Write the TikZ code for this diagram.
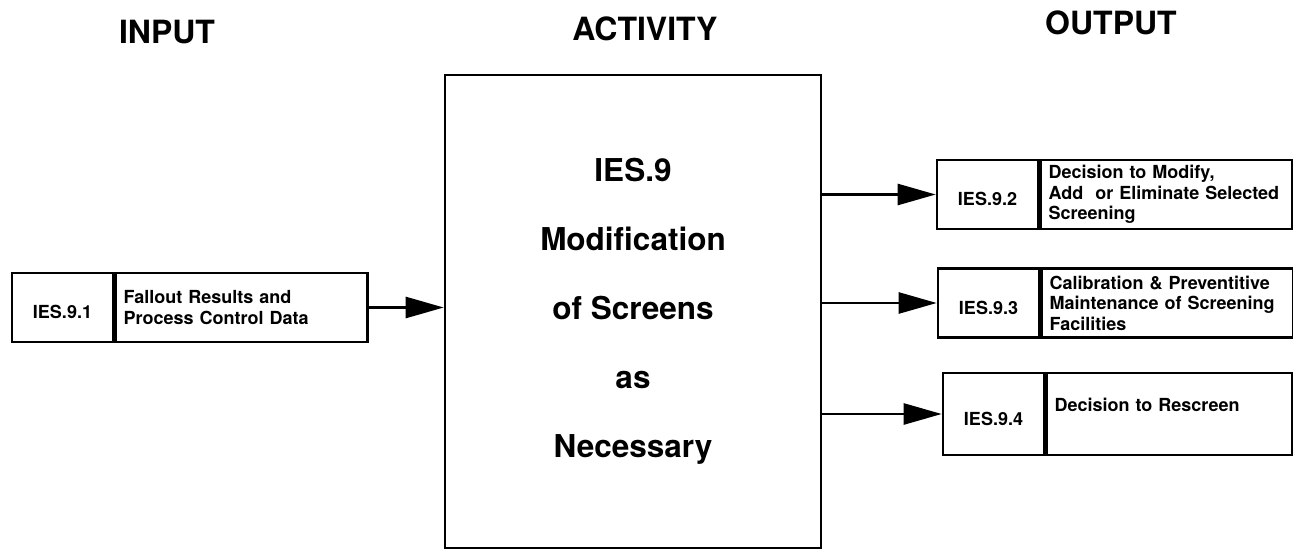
\documentclass[tikz,border=0pt]{standalone}
\usepackage{fontspec}
\setmainfont{TeX Gyre Heros}
\usetikzlibrary{arrows.meta,positioning}
\begin{document}
\begin{tikzpicture}[x=1pt,y=-1pt,
    cell/.style={draw, line width=2.6pt, minimum height=69pt, inner sep=0pt,
      font=\fontsize{18}{20.5}\selectfont\bfseries},
    idcell/.style={cell, minimum width=101pt, text height=22pt, text depth=0pt},
    desccell/.style={cell, minimum width=252pt, text width=236pt, align=left},
    flow/.style={-{Triangle[length=38pt,width=21pt]}, line width=2.6pt},
    heading/.style={font=\fontsize{32}{38}\selectfont\bfseries}]
  \useasboundingbox (0,0) rectangle (1293,551);
  \node[heading] (hin) at (167,32) {INPUT};
  \node[heading] (hact) at (645,29) {ACTIVITY};
  \node[heading] (hout) at (1111,23) {OUTPUT};
  % activity
  \node[draw, line width=2.6pt, minimum width=376pt, minimum height=473pt, align=center,
    font=\fontsize{31.5}{69}\selectfont\bfseries] (act) at (633,311.5)
    {IES.9\\Modification\\of Screens\\as\\Necessary};
  % input
  \node[idcell] (in1id) at (62.5,307.5) {IES.9.1};
  \node[desccell, right=0pt of in1id] (in1) {Fallout Results and\\Process Control Data};
  % outputs
  \node[idcell] (out2id) at (987.5,194.5) {IES.9.2};
  \node[desccell, right=0pt of out2id] (out2) {Decision to Modify,\\Add\ \ or Eliminate Selected\\Screening};
  \node[idcell] (out3id) at (988.5,303) {IES.9.3};
  \node[desccell, right=0pt of out3id] (out3) {Calibration \& Preventitive\\Maintenance of Screening\\Facilities};
  \node[idcell, minimum height=82pt] (out4id) at (993.5,414) {IES.9.4};
  \node[desccell, minimum height=82pt, minimum width=246pt, text width=230pt,
    text height=14pt, text depth=19pt, right=0pt of out4id] (out4) {Decision to Rescreen};
  \draw[flow] (in1) -- (in1 -| act.west);
  \foreach \o in {out2id,out3id,out4id}
    \draw[flow] (act.east |- \o.west) -- (\o.west);
\end{tikzpicture}
\end{document}
